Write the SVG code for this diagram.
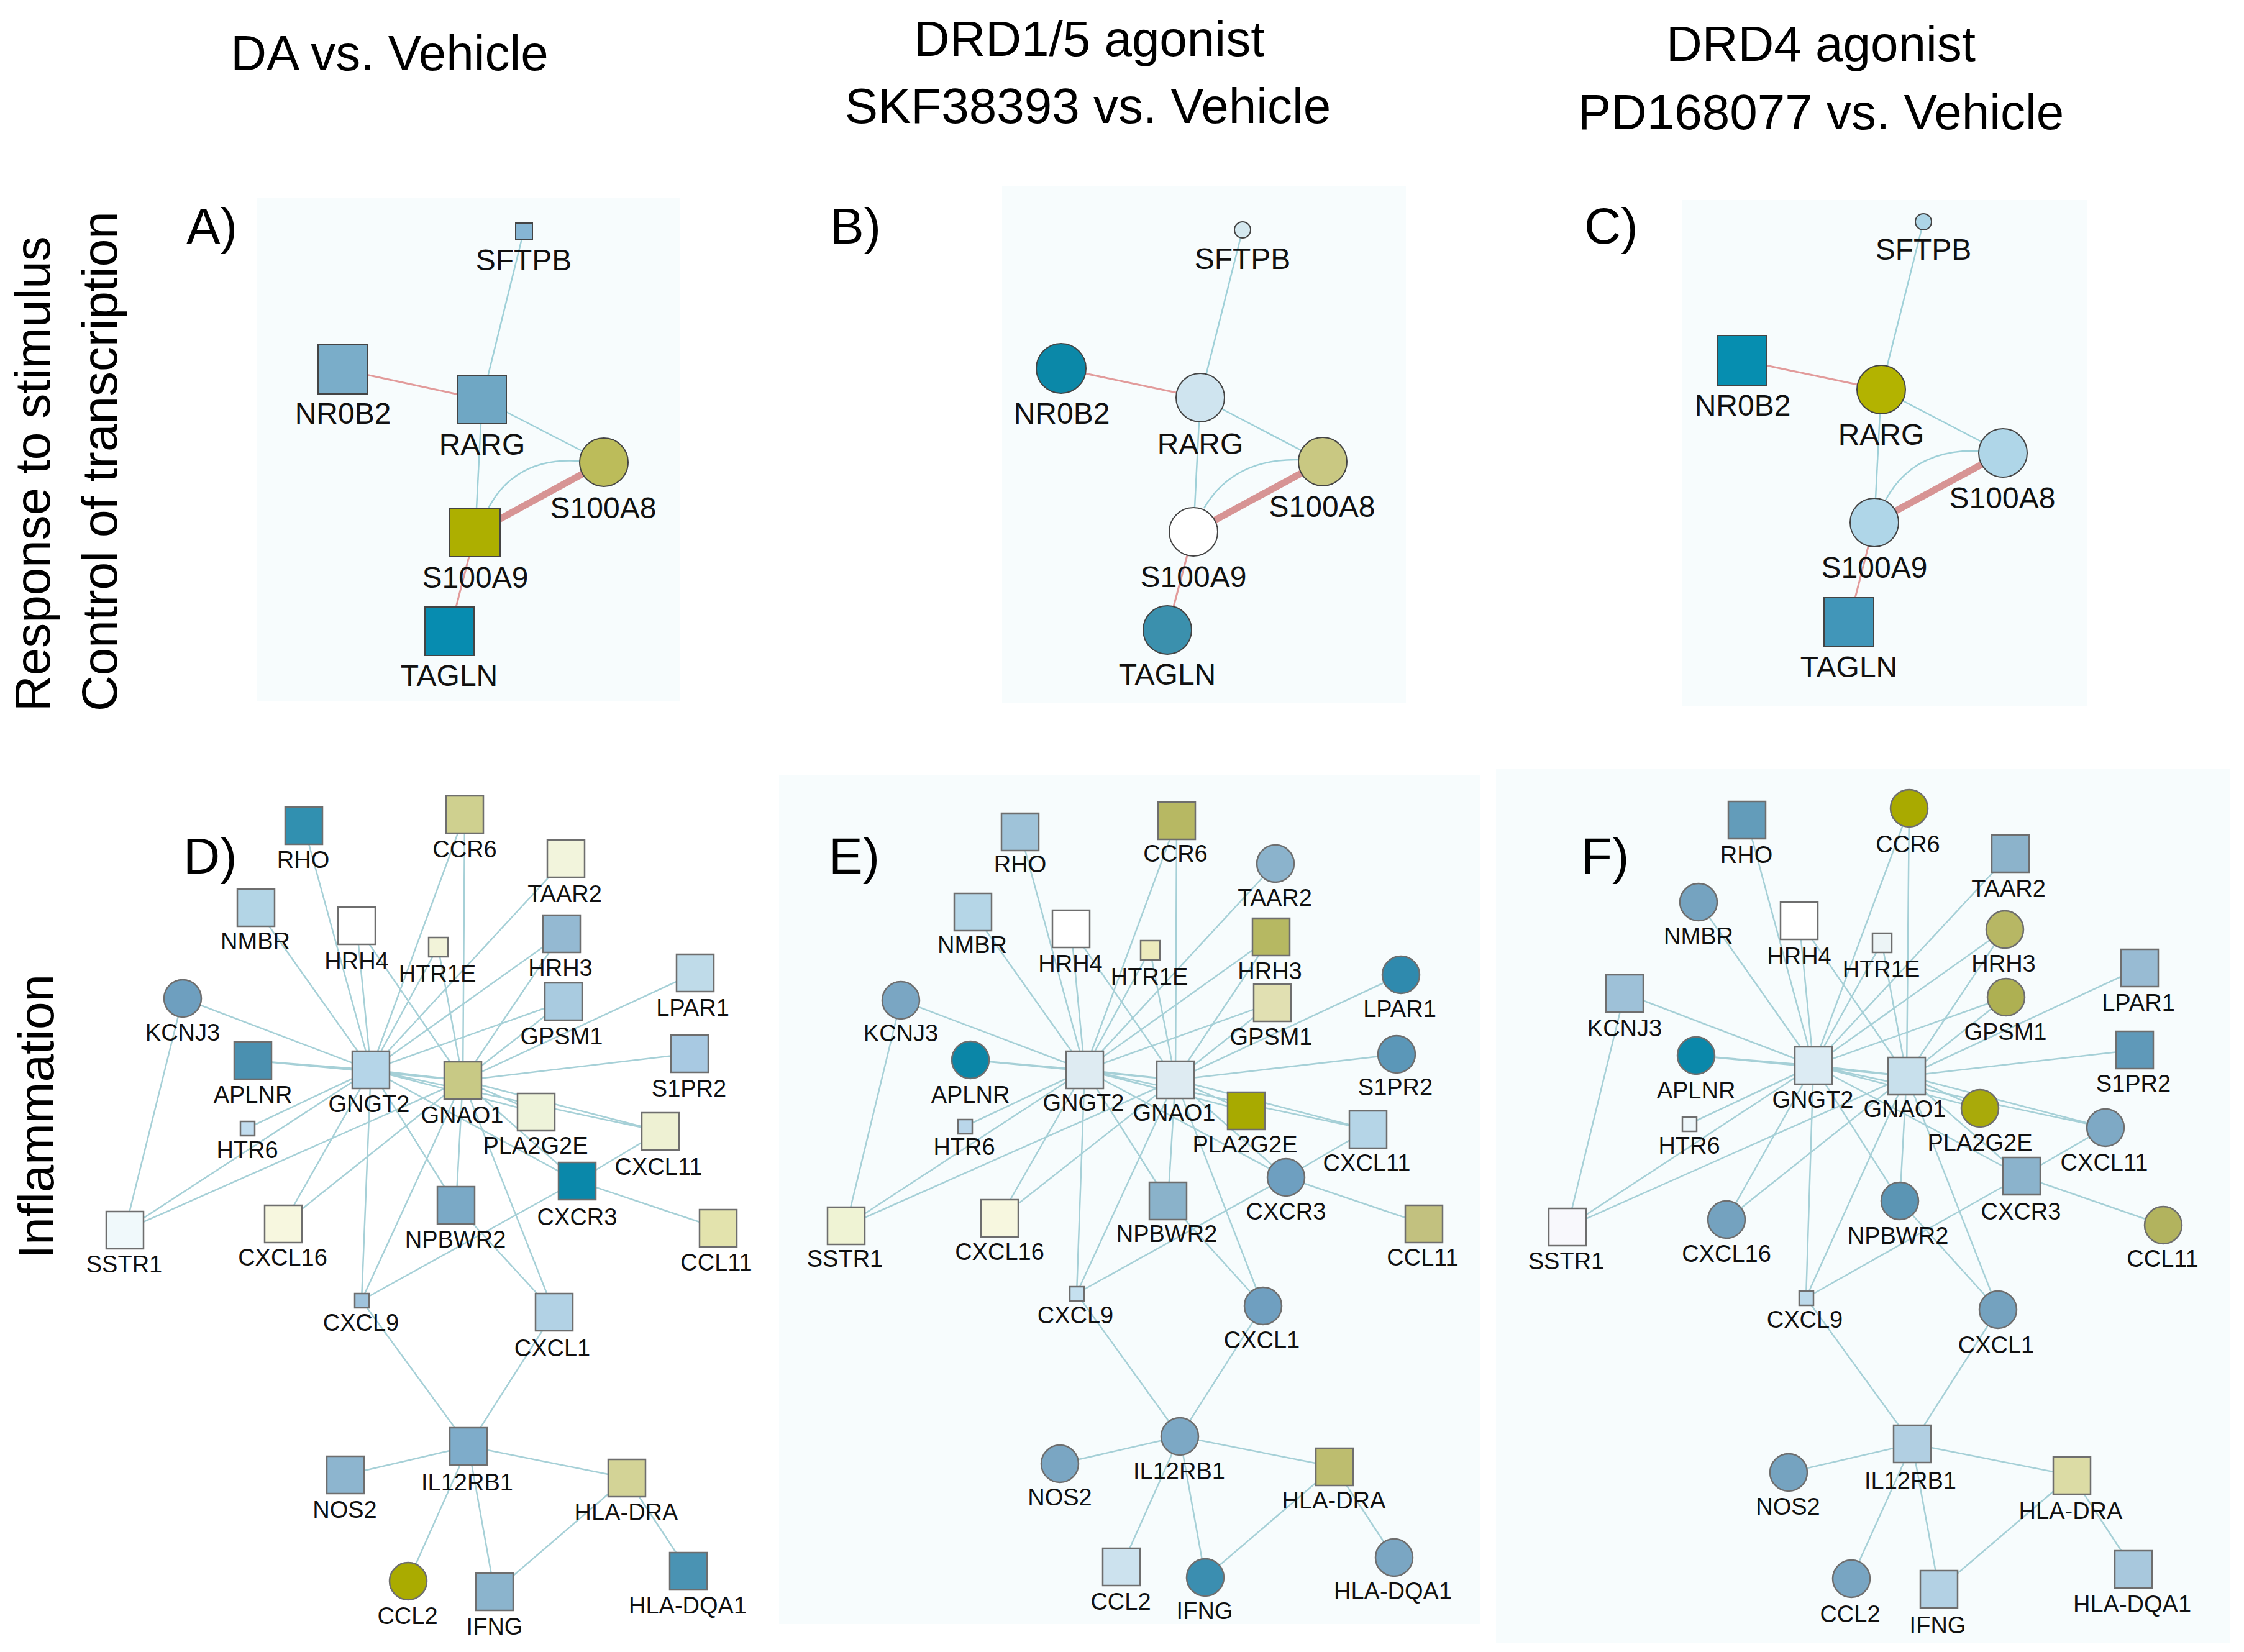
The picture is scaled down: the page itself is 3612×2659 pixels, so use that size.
<svg xmlns="http://www.w3.org/2000/svg" width="3612" height="2659" viewBox="0 0 3612 2659">
<style>
.bg{fill:#f7fcfd}
.t{font-family:"Liberation Sans",Arial,sans-serif;font-size:80px;fill:#000;text-anchor:middle}
.p{font-family:"Liberation Sans",Arial,sans-serif;font-size:82px;fill:#000}
.L{font-family:"Liberation Sans",Arial,sans-serif;font-size:48px;fill:#111;text-anchor:middle}
.l{font-family:"Liberation Sans",Arial,sans-serif;font-size:38px;fill:#111;text-anchor:middle}
.e{stroke:#a6d0d7;stroke-width:2.5;fill:none}
.eb{stroke:#9fd0d8;stroke-width:2.5;fill:none}
.ep{stroke:#e29b9b;stroke-width:3;fill:none}
.et{stroke:#d79494;stroke-width:11;fill:none}
.n{stroke:#6e6e6e;stroke-width:2.5}
.nb{stroke:#444;stroke-width:2}
</style>
<rect width="3612" height="2659" fill="#ffffff"/>
<g id="backgrounds">
<rect class="bg" x="414" y="319" width="680" height="810"/>
<rect class="bg" x="1613" y="300" width="650" height="832"/>
<rect class="bg" x="2708" y="322" width="651" height="815"/>
<rect class="bg" x="1254" y="1248" width="1129" height="1366"/>
<rect class="bg" x="2408" y="1237" width="1182" height="1408"/>
</g>
<g id="titles">
<text class="t" x="627" y="113">DA vs. Vehicle</text>
<text class="t" x="1753" y="90">DRD1/5 agonist</text>
<text class="t" x="1751" y="198">SKF38393 vs. Vehicle</text>
<text class="t" x="2931" y="98">DRD4 agonist</text>
<text class="t" x="2931" y="208">PD168077 vs. Vehicle</text>
<text class="t" style="text-anchor:start" transform="translate(80,1145) rotate(-90)">Response to stimulus</text>
<text class="t" style="text-anchor:start" transform="translate(188,1145) rotate(-90)">Control of transcription</text>
<text class="t" transform="translate(86,1797) rotate(-90)">Inflammation</text>
<text class="p" x="300" y="392">A)</text>
<text class="p" x="1336" y="392">B)</text>
<text class="p" x="2550" y="392">C)</text>
<text class="p" x="295" y="1406">D)</text>
<text class="p" x="1334" y="1406">E)</text>
<text class="p" x="2545" y="1406">F)</text>
</g>
<g id="connectors">
<!-- A -->
<line class="eb" x1="843" y1="372" x2="776" y2="643"/>
<line class="ep" x1="552" y1="595" x2="776" y2="643"/>
<line class="eb" x1="776" y1="643" x2="972" y2="744"/>
<line class="eb" x1="776" y1="643" x2="765" y2="857"/>
<path class="eb" d="M933 742 Q830 735 786 818"/>
<line class="et" x1="972" y1="744" x2="765" y2="857"/>
<line class="ep" x1="765" y1="857" x2="724" y2="1016"/>
<!-- B -->
<line class="eb" x1="2000" y1="370" x2="1932" y2="640"/>
<line class="ep" x1="1708" y1="593" x2="1932" y2="640"/>
<line class="eb" x1="1932" y1="640" x2="2129" y2="743"/>
<line class="eb" x1="1932" y1="640" x2="1921" y2="856"/>
<path class="eb" d="M2090 740 Q1985 738 1938 818"/>
<line class="et" x1="2129" y1="743" x2="1921" y2="856"/>
<line class="ep" x1="1921" y1="856" x2="1879" y2="1014"/>
<!-- C -->
<line class="eb" x1="3096" y1="357" x2="3028" y2="627"/>
<line class="ep" x1="2804" y1="580" x2="3028" y2="627"/>
<line class="eb" x1="3028" y1="627" x2="3224" y2="729"/>
<line class="eb" x1="3028" y1="627" x2="3017" y2="841"/>
<path class="eb" d="M3185 726 Q3080 722 3035 805"/>
<line class="et" x1="3224" y1="729" x2="3017" y2="841"/>
<line class="ep" x1="3017" y1="841" x2="2976" y2="1002"/>
<!-- D -->
<path class="e" d="M489 1329L597 1722M412 1461L597 1722M574 1490L597 1722M574 1490L745 1739M748 1311L597 1722M748 1311L745 1739M705 1524L597 1722M705 1524L745 1739M911 1382L597 1722M904 1503L597 1722M904 1503L745 1739M907 1612L597 1722M907 1612L745 1739M1119 1566L745 1739M294 1607L597 1722M294 1607L201 1980M407 1707L597 1722M407 1707L745 1739M597 1722L745 1739M1110 1696L745 1739M398 1816L597 1722M863 1790L597 1722M863 1790L745 1739M1063 1821L597 1722M1063 1821L745 1739M1063 1821L929 1901M929 1901L745 1739M929 1901L597 1722M929 1901L1156 1977M929 1901L582 2093M201 1980L597 1722M201 1980L745 1739M456 1970L597 1722M456 1970L745 1739M582 2093L597 1722M582 2093L745 1739M734 1940L597 1722M734 1940L745 1739M734 1940L892 2112M892 2112L745 1739M892 2112L754 2328M582 2093L754 2328M754 2328L556 2374M754 2328L1009 2379M754 2328L657 2545M754 2328L796 2562M1009 2379L796 2562M1009 2379L1108 2529"/>
<!-- E -->
<path class="e" d="M1642 1339L1746 1722M1566 1468L1746 1722M1724 1495L1746 1722M1724 1495L1892 1738M1894 1321L1746 1722M1894 1321L1892 1738M1851 1529L1746 1722M1851 1529L1892 1738M2053 1390L1746 1722M2046 1508L1746 1722M2046 1508L1892 1738M2048 1614L1746 1722M2048 1614L1892 1738M2255 1569L1892 1738M1450 1610L1746 1722M1450 1610L1362 1973M1562 1706L1746 1722M1562 1706L1892 1738M1746 1722L1892 1738M2248 1697L1892 1738M1553 1813L1746 1722M2006 1788L1746 1722M2006 1788L1892 1738M2202 1818L1746 1722M2202 1818L1892 1738M2202 1818L2070 1895M2070 1895L1892 1738M2070 1895L1746 1722M2070 1895L2292 1970M2070 1895L1733 2082M1362 1973L1746 1722M1362 1973L1892 1738M1609 1961L1746 1722M1609 1961L1892 1738M1733 2082L1746 1722M1733 2082L1892 1738M1880 1933L1746 1722M1880 1933L1892 1738M1880 1933L2033 2102M2033 2102L1892 1738M2033 2102L1899 2312M1733 2082L1899 2312M1899 2312L1706 2356M1899 2312L2148 2361M1899 2312L1805 2522M1899 2312L1940 2539M2148 2361L1940 2539M2148 2361L2244 2507"/>
<!-- F -->
<path class="e" d="M2812 1320L2919 1715M2734 1452L2919 1715M2896 1482L2919 1715M2896 1482L3069 1732M3073 1301L2919 1715M3073 1301L3069 1732M3029 1517L2919 1715M3029 1517L3069 1732M3236 1374L2919 1715M3227 1496L2919 1715M3227 1496L3069 1732M3229 1605L2919 1715M3229 1605L3069 1732M3444 1558L3069 1732M2615 1599L2919 1715M2615 1599L2523 1975M2730 1699L2919 1715M2730 1699L3069 1732M2919 1715L3069 1732M3436 1690L3069 1732M2719 1809L2919 1715M3187 1784L2919 1715M3187 1784L3069 1732M3389 1815L2919 1715M3389 1815L3069 1732M3389 1815L3254 1893M3254 1893L3069 1732M3254 1893L2919 1715M3254 1893L3482 1972M3254 1893L2907 2089M2523 1975L2919 1715M2523 1975L3069 1732M2779 1963L2919 1715M2779 1963L3069 1732M2907 2089L2919 1715M2907 2089L3069 1732M3058 1933L2919 1715M3058 1933L3069 1732M3058 1933L3216 2108M3216 2108L3069 1732M3216 2108L3078 2324M2907 2089L3078 2324M3078 2324L2879 2370M3078 2324L3335 2375M3078 2324L2980 2541M3078 2324L3121 2558M3335 2375L3121 2558M3335 2375L3434 2526"/>
</g>
<g id="panelA">
<g id="A-SFTPB"><rect class="nb" x="830" y="359" width="27" height="26" fill="#86b5d3"/><text class="L" x="843" y="435">SFTPB</text></g>
<g id="A-NR0B2"><rect class="nb" x="512" y="555" width="79" height="79" fill="#7aadc9"/><text class="L" x="552" y="682">NR0B2</text></g>
<g id="A-RARG"><rect class="nb" x="736" y="604" width="79" height="78" fill="#6fa7c4"/><text class="L" x="776" y="732">RARG</text></g>
<g id="A-S100A8"><ellipse class="nb" cx="972" cy="744" rx="39" ry="39" fill="#bcbc5a"/><text class="L" x="971" y="834">S100A8</text></g>
<g id="A-S100A9"><rect class="nb" x="724" y="818" width="81" height="78" fill="#adaf00"/><text class="L" x="765" y="946">S100A9</text></g>
<g id="A-TAGLN"><rect class="nb" x="684" y="977" width="79" height="78" fill="#078cb0"/><text class="L" x="723" y="1104">TAGLN</text></g>
</g>
<g id="panelB">
<g id="B-SFTPB"><circle class="nb" cx="2000" cy="370" r="13" fill="#d4e8ef"/><text class="L" x="2000" y="433">SFTPB</text></g>
<g id="B-NR0B2"><circle class="nb" cx="1708" cy="593" r="40" fill="#0b88a8"/><text class="L" x="1709" y="682">NR0B2</text></g>
<g id="B-RARG"><circle class="nb" cx="1932" cy="640" r="39" fill="#cfe4ef"/><text class="L" x="1932" y="731">RARG</text></g>
<g id="B-S100A8"><circle class="nb" cx="2129" cy="743" r="39" fill="#c9c882"/><text class="L" x="2128" y="832">S100A8</text></g>
<g id="B-S100A9"><circle class="nb" cx="1921" cy="856" r="39" fill="#ffffff"/><text class="L" x="1921" y="945">S100A9</text></g>
<g id="B-TAGLN"><circle class="nb" cx="1879" cy="1014" r="39" fill="#3b90ad"/><text class="L" x="1879" y="1102">TAGLN</text></g>
</g>
<g id="panelC">
<g id="C-SFTPB"><circle class="nb" cx="3096" cy="357" r="13" fill="#add5e6"/><text class="L" x="3096" y="418">SFTPB</text></g>
<g id="C-NR0B2"><rect class="nb" x="2765" y="540" width="79" height="80" fill="#068eb0"/><text class="L" x="2805" y="669">NR0B2</text></g>
<g id="C-RARG"><circle class="nb" cx="3028" cy="627" r="39" fill="#b3b300"/><text class="L" x="3028" y="716">RARG</text></g>
<g id="C-S100A8"><circle class="nb" cx="3224" cy="729" r="39" fill="#afd6e8"/><text class="L" x="3223" y="818">S100A8</text></g>
<g id="C-S100A9"><circle class="nb" cx="3017" cy="841" r="39" fill="#afd6e8"/><text class="L" x="3017" y="930">S100A9</text></g>
<g id="C-TAGLN"><rect class="nb" x="2936" y="962" width="80" height="79" fill="#4196b9"/><text class="L" x="2976" y="1090">TAGLN</text></g>
</g>
<g id="panelD">
<g id="D-RHO"><rect class="n" x="459" y="1299" width="60" height="60" fill="#3190b0"/><text class="l" x="488" y="1397">RHO</text></g>
<g id="D-CCR6"><rect class="n" x="718" y="1281" width="60" height="60" fill="#cfd08f"/><text class="l" x="748" y="1380">CCR6</text></g>
<g id="D-TAAR2"><rect class="n" x="881" y="1352" width="60" height="60" fill="#f2f4dc"/><text class="l" x="909" y="1452">TAAR2</text></g>
<g id="D-NMBR"><rect class="n" x="382" y="1431" width="60" height="60" fill="#b3d5e6"/><text class="l" x="411" y="1528">NMBR</text></g>
<g id="D-HRH4"><rect class="n" x="544" y="1460" width="60" height="60" fill="#ffffff"/><text class="l" x="574" y="1560">HRH4</text></g>
<g id="D-HTR1E"><rect class="n" x="690" y="1509" width="31" height="31" fill="#f2f3d9"/><text class="l" x="704" y="1580">HTR1E</text></g>
<g id="D-HRH3"><rect class="n" x="874" y="1473" width="60" height="60" fill="#94b9d2"/><text class="l" x="902" y="1571">HRH3</text></g>
<g id="D-LPAR1"><rect class="n" x="1089" y="1536" width="60" height="60" fill="#bfdbe9"/><text class="l" x="1115" y="1635">LPAR1</text></g>
<g id="D-GPSM1"><rect class="n" x="877" y="1582" width="60" height="60" fill="#a9cbe0"/><text class="l" x="904" y="1681">GPSM1</text></g>
<g id="D-KCNJ3"><circle class="n" cx="294" cy="1607" r="30" fill="#6e9fbf"/><text class="l" x="294" y="1675">KCNJ3</text></g>
<g id="D-APLNR"><rect class="n" x="377" y="1677" width="60" height="60" fill="#4a90b0"/><text class="l" x="407" y="1775">APLNR</text></g>
<g id="D-GNGT2"><rect class="n" x="567" y="1692" width="60" height="60" fill="#b5d5e8"/><text class="l" x="594" y="1790">GNGT2</text></g>
<g id="D-GNAO1"><rect class="n" x="715" y="1709" width="60" height="60" fill="#c8c985"/><text class="l" x="744" y="1808">GNAO1</text></g>
<g id="D-S1PR2"><rect class="n" x="1080" y="1666" width="60" height="60" fill="#a8c9e2"/><text class="l" x="1109" y="1765">S1PR2</text></g>
<g id="D-HTR6"><rect class="n" x="387" y="1805" width="23" height="23" fill="#c2ddef"/><text class="l" x="398" y="1864">HTR6</text></g>
<g id="D-PLA2G2E"><rect class="n" x="833" y="1760" width="60" height="60" fill="#eef3da"/><text class="l" x="862" y="1857">PLA2G2E</text></g>
<g id="D-CXCL11"><rect class="n" x="1033" y="1791" width="60" height="60" fill="#eef1d3"/><text class="l" x="1060" y="1891">CXCL11</text></g>
<g id="D-CXCR3"><rect class="n" x="899" y="1871" width="60" height="60" fill="#0a88aa"/><text class="l" x="929" y="1972">CXCR3</text></g>
<g id="D-SSTR1"><rect class="n" x="171" y="1950" width="60" height="60" fill="#f0f9fb"/><text class="l" x="200" y="2048">SSTR1</text></g>
<g id="D-CXCL16"><rect class="n" x="426" y="1940" width="60" height="60" fill="#f7f7df"/><text class="l" x="455" y="2037">CXCL16</text></g>
<g id="D-NPBWR2"><rect class="n" x="704" y="1910" width="60" height="60" fill="#7aa9c6"/><text class="l" x="733" y="2008">NPBWR2</text></g>
<g id="D-CCL11"><rect class="n" x="1126" y="1947" width="60" height="60" fill="#e3e3ad"/><text class="l" x="1153" y="2045">CCL11</text></g>
<g id="D-CXCL9"><rect class="n" x="571" y="2082" width="23" height="23" fill="#9fc3dc"/><text class="l" x="581" y="2142">CXCL9</text></g>
<g id="D-CXCL1"><rect class="n" x="862" y="2082" width="60" height="60" fill="#b2d2e5"/><text class="l" x="889" y="2183">CXCL1</text></g>
<g id="D-IL12RB1"><rect class="n" x="724" y="2298" width="60" height="60" fill="#7eacca"/><text class="l" x="752" y="2399">IL12RB1</text></g>
<g id="D-NOS2"><rect class="n" x="526" y="2344" width="60" height="60" fill="#8db5cf"/><text class="l" x="555" y="2443">NOS2</text></g>
<g id="D-HLA-DRA"><rect class="n" x="979" y="2349" width="60" height="60" fill="#d3d396"/><text class="l" x="1008" y="2447">HLA-DRA</text></g>
<g id="D-CCL2"><circle class="n" cx="657" cy="2545" r="30" fill="#aaab00"/><text class="l" x="656" y="2614">CCL2</text></g>
<g id="D-IFNG"><rect class="n" x="766" y="2532" width="60" height="60" fill="#8bb4cd"/><text class="l" x="796" y="2631">IFNG</text></g>
<g id="D-HLA-DQA1"><rect class="n" x="1078" y="2499" width="60" height="60" fill="#4a93b3"/><text class="l" x="1107" y="2597">HLA-DQA1</text></g>
</g>
<g id="panelE">
<g id="E-RHO"><rect class="n" x="1612" y="1309" width="60" height="60" fill="#9fc3d9"/><text class="l" x="1642" y="1404">RHO</text></g>
<g id="E-CCR6"><rect class="n" x="1864" y="1291" width="60" height="60" fill="#b7b863"/><text class="l" x="1892" y="1387">CCR6</text></g>
<g id="E-TAAR2"><circle class="n" cx="2053" cy="1390" r="30" fill="#8bb3cc"/><text class="l" x="2052" y="1458">TAAR2</text></g>
<g id="E-NMBR"><rect class="n" x="1536" y="1438" width="60" height="60" fill="#b5d6e7"/><text class="l" x="1565" y="1534">NMBR</text></g>
<g id="E-HRH4"><rect class="n" x="1694" y="1465" width="60" height="60" fill="#ffffff"/><text class="l" x="1723" y="1564">HRH4</text></g>
<g id="E-HTR1E"><rect class="n" x="1836" y="1514" width="31" height="31" fill="#eceabd"/><text class="l" x="1850" y="1585">HTR1E</text></g>
<g id="E-HRH3"><rect class="n" x="2016" y="1478" width="60" height="60" fill="#b6b862"/><text class="l" x="2044" y="1576">HRH3</text></g>
<g id="E-LPAR1"><circle class="n" cx="2255" cy="1569" r="30" fill="#2f8aae"/><text class="l" x="2253" y="1637">LPAR1</text></g>
<g id="E-GPSM1"><rect class="n" x="2018" y="1584" width="60" height="60" fill="#e1e0b2"/><text class="l" x="2046" y="1682">GPSM1</text></g>
<g id="E-KCNJ3"><circle class="n" cx="1450" cy="1610" r="30" fill="#7aa6c3"/><text class="l" x="1450" y="1676">KCNJ3</text></g>
<g id="E-APLNR"><circle class="n" cx="1562" cy="1706" r="30" fill="#0b86a7"/><text class="l" x="1562" y="1775">APLNR</text></g>
<g id="E-GNGT2"><rect class="n" x="1716" y="1692" width="60" height="60" fill="#deebf2"/><text class="l" x="1744" y="1788">GNGT2</text></g>
<g id="E-GNAO1"><rect class="n" x="1862" y="1708" width="60" height="60" fill="#deebf2"/><text class="l" x="1890" y="1804">GNAO1</text></g>
<g id="E-S1PR2"><circle class="n" cx="2248" cy="1697" r="30" fill="#5b97b8"/><text class="l" x="2246" y="1763">S1PR2</text></g>
<g id="E-HTR6"><rect class="n" x="1542" y="1802" width="23" height="23" fill="#b9d6ea"/><text class="l" x="1552" y="1859">HTR6</text></g>
<g id="E-PLA2G2E"><rect class="n" x="1976" y="1758" width="60" height="60" fill="#a8aa00"/><text class="l" x="2004" y="1855">PLA2G2E</text></g>
<g id="E-CXCL11"><rect class="n" x="2172" y="1788" width="60" height="60" fill="#b5d5e7"/><text class="l" x="2200" y="1885">CXCL11</text></g>
<g id="E-CXCR3"><circle class="n" cx="2070" cy="1895" r="30" fill="#6e9fc0"/><text class="l" x="2070" y="1963">CXCR3</text></g>
<g id="E-NPBWR2"><rect class="n" x="1850" y="1903" width="60" height="60" fill="#8ab2ca"/><text class="l" x="1878" y="1999">NPBWR2</text></g>
<g id="E-SSTR1"><rect class="n" x="1332" y="1943" width="60" height="60" fill="#eff3d4"/><text class="l" x="1360" y="2039">SSTR1</text></g>
<g id="E-CXCL16"><rect class="n" x="1579" y="1931" width="60" height="60" fill="#f7f7df"/><text class="l" x="1609" y="2028">CXCL16</text></g>
<g id="E-CCL11"><rect class="n" x="2262" y="1940" width="60" height="60" fill="#c2c17f"/><text class="l" x="2290" y="2037">CCL11</text></g>
<g id="E-CXCL9"><rect class="n" x="1722" y="2071" width="23" height="23" fill="#c5e0ef"/><text class="l" x="1731" y="2130">CXCL9</text></g>
<g id="E-CXCL1"><circle class="n" cx="2033" cy="2102" r="30" fill="#6f9fc0"/><text class="l" x="2031" y="2170">CXCL1</text></g>
<g id="E-IL12RB1"><circle class="n" cx="1899" cy="2312" r="30" fill="#7ca8c5"/><text class="l" x="1898" y="2381">IL12RB1</text></g>
<g id="E-NOS2"><circle class="n" cx="1706" cy="2356" r="30" fill="#7aa6c3"/><text class="l" x="1706" y="2423">NOS2</text></g>
<g id="E-HLA-DRA"><rect class="n" x="2118" y="2331" width="60" height="60" fill="#bdbd6f"/><text class="l" x="2147" y="2428">HLA-DRA</text></g>
<g id="E-CCL2"><rect class="n" x="1775" y="2492" width="60" height="60" fill="#cce2ee"/><text class="l" x="1804" y="2591">CCL2</text></g>
<g id="E-IFNG"><circle class="n" cx="1940" cy="2539" r="30" fill="#3b8eb0"/><text class="l" x="1939" y="2606">IFNG</text></g>
<g id="E-HLA-DQA1"><circle class="n" cx="2244" cy="2507" r="30" fill="#7aa6c3"/><text class="l" x="2242" y="2574">HLA-DQA1</text></g>
</g>
<g id="panelF">
<g id="F-RHO"><rect class="n" x="2782" y="1290" width="60" height="60" fill="#639cba"/><text class="l" x="2811" y="1389">RHO</text></g>
<g id="F-CCR6"><circle class="n" cx="3073" cy="1301" r="30" fill="#a9aa00"/><text class="l" x="3071" y="1372">CCR6</text></g>
<g id="F-TAAR2"><rect class="n" x="3206" y="1344" width="60" height="60" fill="#8cb3cb"/><text class="l" x="3233" y="1443">TAAR2</text></g>
<g id="F-NMBR"><circle class="n" cx="2734" cy="1452" r="30" fill="#75a3c0"/><text class="l" x="2734" y="1520">NMBR</text></g>
<g id="F-HRH4"><rect class="n" x="2866" y="1452" width="60" height="60" fill="#ffffff"/><text class="l" x="2896" y="1552">HRH4</text></g>
<g id="F-HTR1E"><rect class="n" x="3014" y="1502" width="31" height="31" fill="#ecf4f6"/><text class="l" x="3028" y="1573">HTR1E</text></g>
<g id="F-HRH3"><circle class="n" cx="3227" cy="1496" r="30" fill="#b7b764"/><text class="l" x="3225" y="1564">HRH3</text></g>
<g id="F-LPAR1"><rect class="n" x="3414" y="1528" width="60" height="60" fill="#98bbd3"/><text class="l" x="3442" y="1627">LPAR1</text></g>
<g id="F-GPSM1"><circle class="n" cx="3229" cy="1605" r="30" fill="#aeb052"/><text class="l" x="3228" y="1674">GPSM1</text></g>
<g id="F-KCNJ3"><rect class="n" x="2585" y="1569" width="60" height="60" fill="#9ec1d8"/><text class="l" x="2615" y="1668">KCNJ3</text></g>
<g id="F-APLNR"><circle class="n" cx="2730" cy="1699" r="30" fill="#0a88aa"/><text class="l" x="2730" y="1768">APLNR</text></g>
<g id="F-GNGT2"><rect class="n" x="2889" y="1685" width="60" height="60" fill="#dcebf3"/><text class="l" x="2918" y="1783">GNGT2</text></g>
<g id="F-GNAO1"><rect class="n" x="3039" y="1702" width="60" height="60" fill="#c8e0ec"/><text class="l" x="3066" y="1798">GNAO1</text></g>
<g id="F-S1PR2"><rect class="n" x="3406" y="1660" width="60" height="60" fill="#5f99b9"/><text class="l" x="3434" y="1757">S1PR2</text></g>
<g id="F-HTR6"><rect class="n" x="2708" y="1798" width="23" height="23" fill="#eef7fa"/><text class="l" x="2719" y="1857">HTR6</text></g>
<g id="F-PLA2G2E"><circle class="n" cx="3187" cy="1784" r="30" fill="#a9aa0a"/><text class="l" x="3187" y="1852">PLA2G2E</text></g>
<g id="F-CXCL11"><circle class="n" cx="3389" cy="1815" r="30" fill="#7ea9c5"/><text class="l" x="3387" y="1884">CXCL11</text></g>
<g id="F-CXCR3"><rect class="n" x="3224" y="1863" width="60" height="60" fill="#8bb3cc"/><text class="l" x="3253" y="1963">CXCR3</text></g>
<g id="F-NPBWR2"><circle class="n" cx="3058" cy="1933" r="30" fill="#5b95b4"/><text class="l" x="3055" y="2002">NPBWR2</text></g>
<g id="F-SSTR1"><rect class="n" x="2493" y="1945" width="60" height="60" fill="#f8f8fc"/><text class="l" x="2521" y="2043">SSTR1</text></g>
<g id="F-CXCL16"><circle class="n" cx="2779" cy="1963" r="30" fill="#74a2bf"/><text class="l" x="2779" y="2031">CXCL16</text></g>
<g id="F-CCL11"><circle class="n" cx="3482" cy="1972" r="30" fill="#b2b35e"/><text class="l" x="3481" y="2039">CCL11</text></g>
<g id="F-CXCL9"><rect class="n" x="2896" y="2078" width="23" height="23" fill="#bcd9ea"/><text class="l" x="2905" y="2137">CXCL9</text></g>
<g id="F-CXCL1"><circle class="n" cx="3216" cy="2108" r="30" fill="#74a2bf"/><text class="l" x="3213" y="2178">CXCL1</text></g>
<g id="F-IL12RB1"><rect class="n" x="3048" y="2294" width="60" height="60" fill="#b1cfe2"/><text class="l" x="3075" y="2396">IL12RB1</text></g>
<g id="F-NOS2"><circle class="n" cx="2879" cy="2370" r="30" fill="#75a3c0"/><text class="l" x="2878" y="2438">NOS2</text></g>
<g id="F-HLA-DRA"><rect class="n" x="3305" y="2345" width="60" height="60" fill="#dcdca5"/><text class="l" x="3333" y="2445">HLA-DRA</text></g>
<g id="F-CCL2"><circle class="n" cx="2980" cy="2541" r="30" fill="#78a5c2"/><text class="l" x="2978" y="2611">CCL2</text></g>
<g id="F-IFNG"><rect class="n" x="3091" y="2528" width="60" height="60" fill="#b3d1e4"/><text class="l" x="3119" y="2629">IFNG</text></g>
<g id="F-HLA-DQA1"><rect class="n" x="3404" y="2496" width="60" height="60" fill="#a8c8dd"/><text class="l" x="3432" y="2595">HLA-DQA1</text></g>
</g>
</svg>
